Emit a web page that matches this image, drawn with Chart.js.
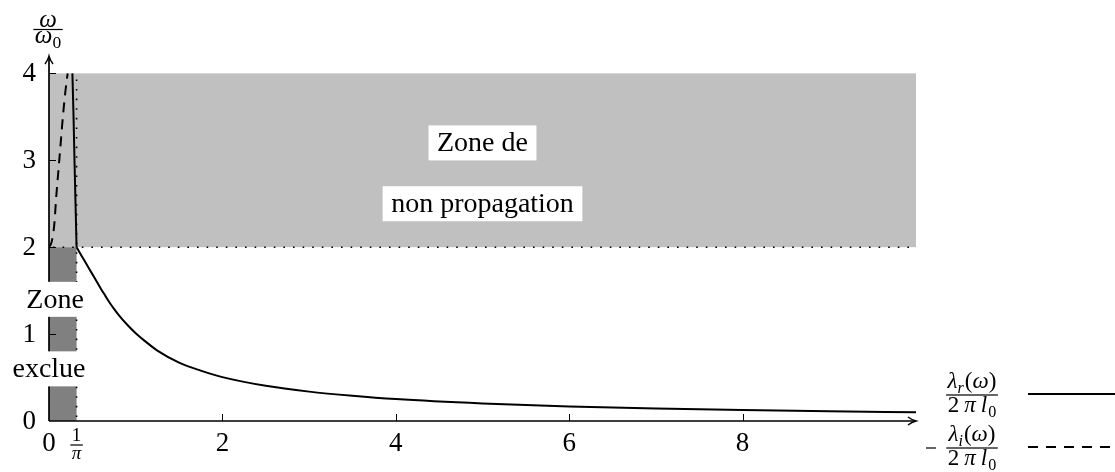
<!DOCTYPE html>
<html>
<head>
<meta charset="utf-8">
<script src="https://cdn.jsdelivr.net/npm/chart.js@4.4.1/dist/chart.umd.min.js"></script>
<style>
  html, body { margin: 0; padding: 0; background: #fff; }
</style>
</head>
<body>
<canvas id="bieudo" width="1115" height="472"></canvas>
<script>
// valeurs
const xTicks = [2, 4, 6, 8];
const yTicks = [1, 2, 3, 4];
const yTickLabels = ['0', '1', '2', '3', '4'];

// lambda_r / (2 pi l0), branche au-dessus de 2 omega0
const reelHautX = [0.270, 0.283, 0.294, 0.306, 0.318];
const reelHautY = [4.0, 3.5, 3.0, 2.5, 2.0];
// lambda_r / (2 pi l0), branche propagative
const reelBasX = [0.318, 0.35, 0.40, 0.45, 0.50, 0.55, 0.60, 0.65, 0.70, 0.75, 0.80, 0.90, 1.0, 1.1, 1.25, 1.5, 1.75, 2.0, 2.5, 3.0, 3.5, 4.0, 5.0, 6.0, 7.0, 8.0, 9.0, 10.0];
const reelBasY = [2.00, 1.945, 1.86, 1.775, 1.69, 1.605, 1.52, 1.44, 1.36, 1.29, 1.225, 1.11, 1.01, 0.925, 0.81, 0.672, 0.58, 0.505, 0.405, 0.338, 0.29, 0.252, 0.202, 0.168, 0.144, 0.126, 0.112, 0.10];
// -lambda_i / (2 pi l0)
const imagX = [0, 0.03, 0.06, 0.085, 0.11, 0.135, 0.16, 0.19, 0.215];
const imagY = [2.0, 2.06, 2.25, 2.6, 2.9, 3.2, 3.5, 3.8, 4.0];

// zones
const zoneExclueX = [0, 0.318];
const zoneExclueY = [0, 2];
const zoneNonPropX = [0, 10];
const zoneNonPropY = [2, 4];
const uneSurPi = 0.318;

const FONT = '"Liberation Serif", "Times New Roman", serif';

function pts(xs, ys) {
    return xs.map((x, i) => ({ x: x, y: ys[i] }));
}

// texte "mathématique" : suite de morceaux (italique, indice)
function drawRuns(ctx, runs, cx, baseY, size) {
    let w = 0;
    const items = runs.map(r => {
        const s = r.sub ? size * 0.7 : size;
        const font = (r.it ? 'italic ' : '') + s + 'px ' + FONT;
        ctx.font = font;
        const wd = ctx.measureText(r.t).width + (r.gap || 0);
        w += wd;
        return { r: r, font: font, wd: wd, dy: r.sub ? size * 0.22 : 0 };
    });
    let x = cx - w / 2;
    ctx.textAlign = 'left';
    ctx.textBaseline = 'alphabetic';
    items.forEach(it => {
        ctx.font = it.font;
        ctx.fillText(it.r.t, x, baseY + it.dy);
        x += it.wd;
    });
    return w;
}

function drawFrac(ctx, num, den, cx, barY, size, numOff, denOff) {
    const wn = drawRuns(ctx, num, cx, barY - numOff, size);
    const wd = drawRuns(ctx, den, cx, barY + denOff, size);
    const w = Math.max(wn, wd) + 3;
    ctx.fillRect(cx - w / 2, barY - 0.6, w, 1.2);
}

function labelBox(ctx, text, cx, cy) {
    ctx.font = '28px ' + FONT;
    const w = ctx.measureText(text).width + 17;
    ctx.fillStyle = '#fff';
    ctx.fillRect(cx - w / 2, cy - 17.5, w, 35);
    ctx.fillStyle = '#000';
    ctx.textAlign = 'center';
    ctx.textBaseline = 'middle';
    ctx.fillText(text, cx, cy + 1);
}

const decor = {
    id: 'decor',
    beforeDatasetsDraw(chart) {
        const ctx = chart.ctx;
        const sx = chart.scales.x, sy = chart.scales.y;
        ctx.save();
        ctx.fillStyle = '#c0c0c0';
        ctx.fillRect(sx.getPixelForValue(zoneNonPropX[0]), sy.getPixelForValue(zoneNonPropY[1]),
            sx.getPixelForValue(zoneNonPropX[1]) - sx.getPixelForValue(zoneNonPropX[0]),
            sy.getPixelForValue(zoneNonPropY[0]) - sy.getPixelForValue(zoneNonPropY[1]));
        ctx.fillStyle = '#808080';
        ctx.fillRect(sx.getPixelForValue(zoneExclueX[0]), sy.getPixelForValue(zoneExclueY[1]),
            sx.getPixelForValue(zoneExclueX[1]) - sx.getPixelForValue(zoneExclueX[0]),
            sy.getPixelForValue(zoneExclueY[0]) - sy.getPixelForValue(zoneExclueY[1]));

        // pointillés
        ctx.strokeStyle = '#000';
        ctx.lineWidth = 1.6;
        ctx.setLineDash([1.6, 8]);
        ctx.beginPath();
        ctx.moveTo(sx.getPixelForValue(0) + 4, sy.getPixelForValue(2));
        ctx.lineTo(sx.getPixelForValue(10), sy.getPixelForValue(2));
        ctx.moveTo(sx.getPixelForValue(uneSurPi), sy.getPixelForValue(0) - 4);
        ctx.lineTo(sx.getPixelForValue(uneSurPi), sy.getPixelForValue(4));
        ctx.stroke();
        ctx.restore();
    },
    afterDatasetsDraw(chart) {
        const ctx = chart.ctx;
        const sx = chart.scales.x, sy = chart.scales.y;
        const a = chart.chartArea;
        const x0 = sx.getPixelForValue(0), y0 = sy.getPixelForValue(0);
        ctx.save();
        ctx.strokeStyle = '#000';
        ctx.fillStyle = '#000';

        // axes
        ctx.lineWidth = 1.7;
        ctx.beginPath();
        ctx.moveTo(x0, y0);
        ctx.lineTo(a.right - 1, y0);
        ctx.moveTo(x0, y0);
        ctx.lineTo(x0, a.top + 1);
        ctx.stroke();
        ctx.lineWidth = 1.4;
        ctx.beginPath();
        ctx.moveTo(a.right - 8, y0 - 4);
        ctx.quadraticCurveTo(a.right - 4, y0 - 1, a.right, y0);
        ctx.quadraticCurveTo(a.right - 4, y0 + 1, a.right - 8, y0 + 4);
        ctx.moveTo(x0 - 4, a.top + 8);
        ctx.quadraticCurveTo(x0 - 1, a.top + 4, x0, a.top);
        ctx.quadraticCurveTo(x0 + 1, a.top + 4, x0 + 4, a.top + 8);
        ctx.stroke();

        // graduations
        ctx.lineWidth = 1;
        ctx.beginPath();
        xTicks.forEach(v => {
            const px = Math.round(sx.getPixelForValue(v)) + 0.5;
            ctx.moveTo(px, y0);
            ctx.lineTo(px, y0 - 7);
        });
        yTicks.forEach(v => {
            const py = Math.round(sy.getPixelForValue(v)) + 0.5;
            ctx.moveTo(x0, py);
            ctx.lineTo(x0 + 7, py);
        });
        ctx.stroke();

        // étiquettes des graduations
        ctx.font = '27px ' + FONT;
        ctx.textAlign = 'center';
        ctx.textBaseline = 'alphabetic';
        ctx.fillText('0', x0, y0 + 30);
        xTicks.forEach(v => ctx.fillText(String(v), sx.getPixelForValue(v), y0 + 30));
        ctx.textAlign = 'right';
        ctx.textBaseline = 'middle';
        yTickLabels.forEach((t, i) => ctx.fillText(t, x0 - 13, sy.getPixelForValue(i) + 1));
        drawFrac(ctx, [{ t: '1' }], [{ t: 'π', it: true }], sx.getPixelForValue(uneSurPi), y0 + 24, 19, 4, 14);

        // titre de l'axe vertical
        drawFrac(ctx, [{ t: 'ω', it: true }], [{ t: 'ω', it: true }, { t: '0', sub: true }], x0 - 1, 29.5, 25, 3, 13);

        // légende
        const lx = a.right + 56;
        const num1 = [{ t: 'λ', it: true }, { t: 'r', it: true, sub: true, gap: 1 }, { t: '(' }, { t: 'ω', it: true }, { t: ')' }];
        const num2 = [{ t: 'λ', it: true }, { t: 'i', it: true, sub: true, gap: 1 }, { t: '(' }, { t: 'ω', it: true }, { t: ')' }];
        const den = [{ t: '2', gap: 5 }, { t: 'π', it: true, gap: 5 }, { t: 'l', it: true, gap: 1 }, { t: '0', sub: true }];
        drawFrac(ctx, num1, den, lx, 395, 23, 7, 17);
        drawFrac(ctx, num2, den, lx, 448, 23, 7, 17);
        ctx.fillRect(a.right + 10, 447.4, 10, 1.2);
        ctx.lineWidth = 2;
        ctx.beginPath();
        ctx.moveTo(a.right + 112, 394);
        ctx.lineTo(1115, 394);
        ctx.stroke();
        ctx.setLineDash([10, 8]);
        ctx.beginPath();
        ctx.moveTo(a.right + 112, 447);
        ctx.lineTo(1115, 447);
        ctx.stroke();
        ctx.setLineDash([]);

        // libellés des zones
        labelBox(ctx, 'Zone de', sx.getPixelForValue(5.0), sy.getPixelForValue(3.2));
        labelBox(ctx, 'non propagation', sx.getPixelForValue(5.0), sy.getPixelForValue(2.5));
        labelBox(ctx, 'Zone', sx.getPixelForValue(0.07), sy.getPixelForValue(1.4));
        labelBox(ctx, 'exclue', sx.getPixelForValue(0), sy.getPixelForValue(0.6));
        ctx.restore();
    }
};

const bieudo = document.getElementById('bieudo');

new Chart(bieudo, {
    type: 'scatter',
    data: {
        datasets: [{
            label: 'reel haut',
            data: pts(reelHautX, reelHautY),
            showLine: true,
            borderColor: '#000',
            borderWidth: 2,
            pointRadius: 0
        }, {
            label: 'reel bas',
            data: pts(reelBasX, reelBasY),
            showLine: true,
            borderColor: '#000',
            borderWidth: 2,
            pointRadius: 0,
            cubicInterpolationMode: 'monotone'
        }, {
            label: 'imag',
            data: pts(imagX, imagY),
            showLine: true,
            borderColor: '#000',
            borderWidth: 2,
            borderDash: [10, 7],
            pointRadius: 0,
            cubicInterpolationMode: 'monotone'
        }]
    },
    options: {
        responsive: false,
        animation: false,
        devicePixelRatio: 1,
        layout: {
            padding: { left: 49, right: 199, top: 56, bottom: 51 }
        },
        plugins: {
            legend: { display: false },
            tooltip: { enabled: false }
        },
        scales: {
            x: { type: 'linear', min: 0, max: 10, display: false },
            y: { type: 'linear', min: 0, max: 4.2, display: false }
        }
    },
    plugins: [decor]
});
</script>
</body>
</html>
